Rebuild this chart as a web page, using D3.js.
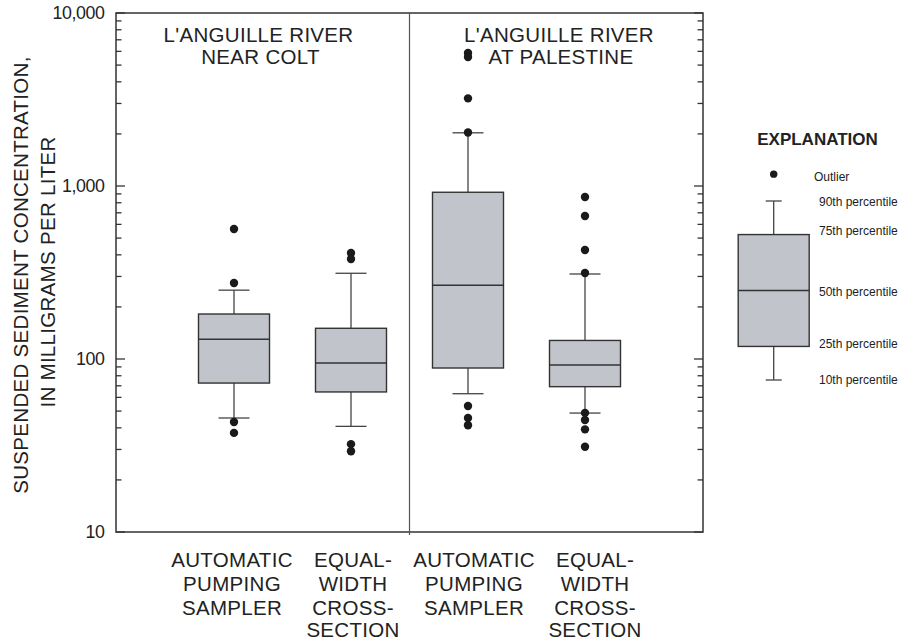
<!DOCTYPE html>
<html>
<head>
<meta charset="utf-8">
<script src="https://cdn.jsdelivr.net/npm/d3@7"></script>
<style>
  html, body { margin: 0; padding: 0; background: #fff; }
  svg { display: block; font-family: "Liberation Sans", Arial, sans-serif; }
</style>
</head>
<body>
<svg id="chart" width="899" height="642"></svg>
<script>
// ---- data ----
const categories = ["autoColt", "ewiColt", "autoPal", "ewiPal"];
const categoryLabels = [
  ["AUTOMATIC", "PUMPING", "SAMPLER"],
  ["EQUAL-", "WIDTH", "CROSS-", "SECTION"],
  ["AUTOMATIC", "PUMPING", "SAMPLER"],
  ["EQUAL-", "WIDTH", "CROSS-", "SECTION"]
];
const panelTitles = [
  ["L'ANGUILLE RIVER", "NEAR COLT"],
  ["L'ANGUILLE RIVER", "AT PALESTINE"]
];
const p10 = [45.6, 40.8, 63, 48.7];
const p25 = [72.6, 64.5, 88.7, 69.2];
const p50 = [130, 94.8, 267, 92.3];
const p75 = [182, 150.5, 920, 128];
const p90 = [250, 313, 2030, 310];
const outliers = [
  [564, 275, 43.2, 37.4],
  [410, 378, 32.2, 29.3],
  [5870, 5570, 3210, 2040, 53.5, 45.6, 41.4],
  [864, 671, 427, 314, 48.8, 44.4, 39.2, 31.1]
];
const yDomain = [10, 10000];
const yTickLabels = ["10", "100", "1,000", "10,000"];
const yTitle = ["SUSPENDED SEDIMENT CONCENTRATION,", "IN MILLIGRAMS PER LITER"];
const legendTitle = "EXPLANATION";
const legendPercentiles = [90, 75, 50, 25, 10];
const legendLabels = ["90th percentile", "75th percentile", "50th percentile", "25th percentile", "10th percentile"];
const legendOutlier = 102;
const legendOutlierLabel = "Outlier";

// ---- layout ----
const svg = d3.select("#chart");
const L = 116, R = 703, T = 13, B = 532;
const boxFill = "#c1c4ca", ink = "#333", dotInk = "#1a1a1a";

const y = d3.scaleLog().domain(yDomain).range([B, T]);
const xBox = d3.scalePoint().domain(categories).range([234, 585]);
const xLab = d3.scalePoint().domain(categories).range([232, 595]);

// ticks (inside, both sides)
const ticks = y.ticks();
const isMajor = v => Math.abs(Math.log10(v) - Math.round(Math.log10(v))) < 1e-9;
const gT = svg.append("g");
gT.selectAll("line.l").data(ticks).join("line")
  .attr("x1", L).attr("x2", d => L + (isMajor(d) ? 9 : 5.5))
  .attr("y1", d => y(d)).attr("y2", d => y(d))
  .attr("stroke", ink).attr("stroke-width", 1.3);
gT.selectAll("line.r").data(ticks).join("line")
  .attr("x1", R).attr("x2", d => R - (isMajor(d) ? 9 : 5.5))
  .attr("y1", d => y(d)).attr("y2", d => y(d))
  .attr("stroke", ink).attr("stroke-width", 1.3);

// major tick labels
const majors = ticks.filter(isMajor);
svg.append("g").selectAll("text").data(majors).join("text")
  .attr("x", 104.5).attr("y", d => y(d)).attr("dy", "0.35em")
  .attr("text-anchor", "end").attr("font-size", 17.8).attr("letter-spacing", -0.4).attr("fill", "#222")
  .text((d, i) => yTickLabels[i]);

// frame
svg.append("rect").attr("x", L).attr("y", T).attr("width", R - L).attr("height", B - T)
  .attr("fill", "none").attr("stroke", ink).attr("stroke-width", 1.5);

// divider between sites
const xDiv = (xBox(categories[1]) + xBox(categories[2])) / 2;
svg.append("line").attr("x1", xDiv).attr("x2", xDiv).attr("y1", T).attr("y2", B + 3)
  .attr("stroke", "#555").attr("stroke-width", 1.2);

// panel titles
const panelCenters = [258.5, 559];
panelTitles.forEach((lines, i) => {
  const t = svg.append("text").attr("text-anchor", "middle").attr("font-size", 20.5)
    .attr("fill", "#222").attr("letter-spacing", 0.3);
  lines.forEach((s, j) => {
    t.append("tspan").attr("x", panelCenters[i] + (j === 1 ? 2 : 0))
      .attr("y", 41.7 + j * 22.6).text(s);
  });
});

// boxes
const boxW = 71, capW = 31;
const gB = svg.append("g");
categories.forEach((c, i) => {
  const cx = xBox(c);
  const g = gB.append("g");
  g.append("line").attr("x1", cx).attr("x2", cx).attr("y1", y(p90[i])).attr("y2", y(p75[i]))
    .attr("stroke", "#444").attr("stroke-width", 1.3);
  g.append("line").attr("x1", cx).attr("x2", cx).attr("y1", y(p25[i])).attr("y2", y(p10[i]))
    .attr("stroke", "#444").attr("stroke-width", 1.3);
  [p90[i], p10[i]].forEach(v => {
    g.append("line").attr("x1", cx - capW / 2).attr("x2", cx + capW / 2)
      .attr("y1", y(v)).attr("y2", y(v)).attr("stroke", "#444").attr("stroke-width", 1.3);
  });
  g.append("rect").attr("x", cx - boxW / 2).attr("y", y(p75[i]))
    .attr("width", boxW).attr("height", y(p25[i]) - y(p75[i]))
    .attr("fill", boxFill).attr("stroke", ink).attr("stroke-width", 1.4);
  g.append("line").attr("x1", cx - boxW / 2).attr("x2", cx + boxW / 2)
    .attr("y1", y(p50[i])).attr("y2", y(p50[i])).attr("stroke", ink).attr("stroke-width", 1.4);
  g.selectAll("circle").data(outliers[i]).join("circle")
    .attr("cx", cx).attr("cy", d => y(d)).attr("r", 4.2).attr("fill", dotInk);
});

// category labels
const labDy = [0, 24.5, 48.5, 70.5];
categories.forEach((c, i) => {
  const t = svg.append("text").attr("text-anchor", "middle").attr("font-size", 20.5)
    .attr("fill", "#222").attr("letter-spacing", 0.3);
  categoryLabels[i].forEach((s, j) => {
    t.append("tspan").attr("x", xLab(c)).attr("y", 566.5 + labDy[j]).text(s);
  });
});

// y title
const yt = svg.append("text").attr("transform", "translate(28.3,275) rotate(-90)")
  .attr("text-anchor", "middle").attr("font-size", 20.5).attr("fill", "#222").attr("letter-spacing", 0.3);
yt.append("tspan").attr("x", 0).attr("y", 0).text(yTitle[0]);
yt.append("tspan").attr("x", 3).attr("y", 26.7).text(yTitle[1]);

// legend
const ly = d3.scaleLinear().domain([10, 90]).range([380, 201]);
const lcx = 773.7, lBoxW = 71, lCapW = 16;
const lg = svg.append("g");
lg.append("text").attr("x", 817.5).attr("y", 145).attr("text-anchor", "middle")
  .attr("font-size", 17).attr("font-weight", "bold").attr("fill", "#222").text(legendTitle);
lg.append("line").attr("x1", lcx).attr("x2", lcx).attr("y1", ly(90)).attr("y2", ly(75))
  .attr("stroke", "#444").attr("stroke-width", 1.3);
lg.append("line").attr("x1", lcx).attr("x2", lcx).attr("y1", ly(25)).attr("y2", ly(10))
  .attr("stroke", "#444").attr("stroke-width", 1.3);
[90, 10].forEach(p => {
  lg.append("line").attr("x1", lcx - lCapW / 2).attr("x2", lcx + lCapW / 2)
    .attr("y1", ly(p)).attr("y2", ly(p)).attr("stroke", "#444").attr("stroke-width", 1.3);
});
lg.append("rect").attr("x", lcx - lBoxW / 2).attr("y", ly(75)).attr("width", lBoxW)
  .attr("height", ly(25) - ly(75)).attr("fill", boxFill).attr("stroke", ink).attr("stroke-width", 1.4);
lg.append("line").attr("x1", lcx - lBoxW / 2).attr("x2", lcx + lBoxW / 2)
  .attr("y1", ly(50)).attr("y2", ly(50)).attr("stroke", ink).attr("stroke-width", 1.4);
lg.append("circle").attr("cx", lcx).attr("cy", ly(legendOutlier)).attr("r", 3.7).attr("fill", dotInk);
lg.append("text").attr("x", 814).attr("y", 180.7).attr("font-size", 12).attr("fill", "#222")
  .text(legendOutlierLabel);
const labelOffsets = [4.5, 0, 5.5, 1.5, 3.5];
lg.selectAll("text.pl").data(legendPercentiles).join("text")
  .attr("x", 819).attr("y", (d, i) => ly(d) + labelOffsets[i])
  .attr("font-size", 12).attr("fill", "#222")
  .text((d, i) => legendLabels[i]);
</script>
</body>
</html>
